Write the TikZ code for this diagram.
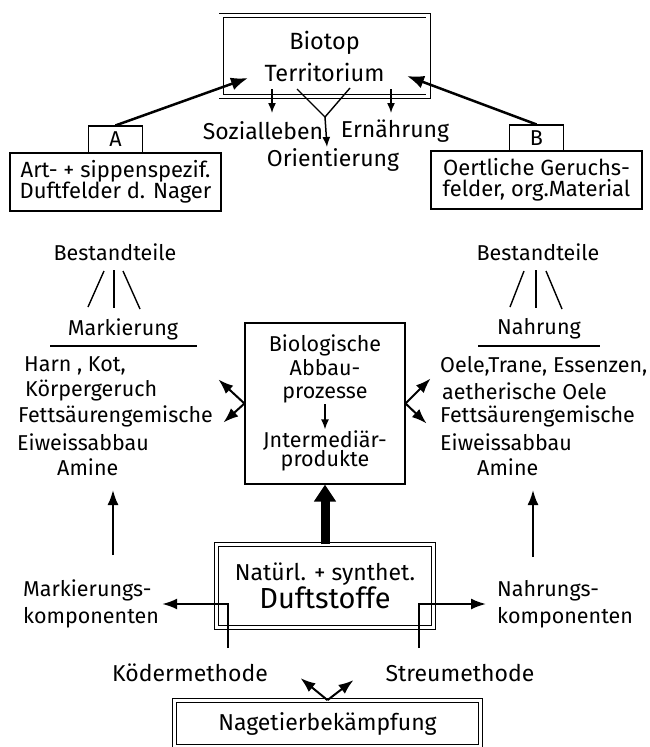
\documentclass[tikz,border=0pt]{standalone}
\usepackage{fontspec}
\setmainfont{Fira Sans}
\usetikzlibrary{arrows.meta,positioning}
\newcommand{\lett}{\fontsize{21.5}{26}\selectfont}
\newcommand{\lettgross}{\fontsize{29}{32}\selectfont}
\tikzset{
  kasten/.style={draw,line width=1.1pt,inner sep=2pt},
  doppelkasten/.style={draw,double,double distance=3.4pt,line width=0.8pt,inner sep=2pt},
  strich/.style={line width=1.4pt},
  pfeil/.style={line width=2pt,-{Latex[length=15pt,width=11pt]}},
  pfeildick/.style={line width=2.5pt,-{Latex[length=17pt,width=13pt]}},
  pfeilklein/.style={line width=1.5pt,-{Latex[length=10pt,width=8pt]}},
  pfeilbreit/.style={line width=9pt,-{Triangle[length=17pt,width=21pt]}}
}
\begin{document}
\begin{tikzpicture}[x=1pt,y=-1pt,font=\lett,inner sep=1pt]
\useasboundingbox (0,0) rectangle (649,747);

% Biotop oben
\node[doppelkasten,minimum width=207pt,minimum height=81pt,align=center,
  font=\fontsize{23.5}{32}\selectfont] (biotop) at (324.5,56) {Biotop\\Territorium};
\node[kasten,minimum width=211pt,minimum height=58pt,align=center,
  font=\fontsize{22}{21.5}\selectfont] (artfeld) at (115.5,182)
  {Art- + sippenspezif.\\Duftfelder d. Nager};
\node[kasten,minimum width=54pt,minimum height=27pt,above=-1.1pt of artfeld] (akasten) {A};
\node[kasten,minimum width=211pt,minimum height=58pt,align=center,
  font=\fontsize{22}{21.5}\selectfont] (geruch) at (536.5,180)
  {Oertliche Geruchs-\\felder, org.Material};
\node[kasten,minimum width=54pt,minimum height=26pt,above=-1.1pt of geruch] (bkasten) {B};

\node[font=\fontsize{23}{27}\selectfont] (sozial) at (263,131) {Sozialleben};
\node[font=\fontsize{23}{27}\selectfont] (ernaehr) at (395,131) {Ernährung};
\node[font=\fontsize{23}{27}\selectfont] (orient) at (333,160) {Orientierung};

\coordinate (ta) at (248,78);
\coordinate (tb) at (407,76);
\draw[pfeildick] (akasten.north) -- (ta);
\draw[pfeildick] (bkasten.north) -- (tb);

\coordinate (soz0) at (272,89);
\coordinate (soz1) at (272,113);
\coordinate (ern0) at (391,89);
\coordinate (ern1) at (391,113);
\draw[pfeilklein] (soz0) -- (soz1);
\draw[pfeilklein] (ern0) -- (ern1);
\coordinate (y1) at (297,89);
\coordinate (y2) at (350,88);
\coordinate (ym) at (325,117);
\coordinate (yo) at (327,147);
\draw[strich] (y1) -- (ym) -- (y2);
\draw[pfeilklein] (ym) -- (yo);

% Bestandteile links
\node (bestl) at (115,252) {Bestandteile};
\draw[strich] (88,307) -- (104,271);
\draw[strich] (114,270) -- (114,308);
\draw[strich] (123,271) -- (140,309);
\node (markierung) at (123,329) {Markierung};
\draw[strich] (50,346) -- (197,346);
\node[anchor=west] (harn) at (23,366) {Harn , Kot,};
\node[anchor=west] (koerper) at (24,391) {Körpergeruch};
\node[anchor=west] (fettl) at (17,416) {Fettsäurengemische};
\node[anchor=west] (eiweissl) at (16,442) {Eiweissabbau};
\node[anchor=west] (aminel) at (56,467) {Amine};

% Bestandteile rechts
\node (bestr) at (538,252) {Bestandteile};
\draw[strich] (510,307) -- (524,271);
\draw[strich] (536,270) -- (536,308);
\draw[strich] (546,271) -- (562,309);
\node (nahrung) at (539,329) {Nahrung};
\draw[strich] (478,346) -- (600,346);
\node[anchor=west] (oele) at (439,366) {Oele,Trane, Essenzen,};
\node[anchor=west] (aether) at (441,391) {aetherische Oele};
\node[anchor=west] (fettr) at (439,416) {Fettsäurengemische};
\node[anchor=west] (eiweissr) at (439,442) {Eiweissabbau};
\node[anchor=west] (aminer) at (476,467) {Amine};

% Abbau in der Mitte
\node[kasten,minimum width=160pt,minimum height=161pt] (abbau) at (325,403.5) {};
\node[align=center,font=\fontsize{21.5}{23.5}\selectfont] (abbauoben) at (325,369)
  {Biologische\\Abbau-\\prozesse};
\node[align=center,font=\fontsize{21.5}{19.5}\selectfont] (produkt) at (325,451)
  {Jntermediär-\\produkte};
\draw[pfeilklein] (abbauoben) -- (produkt);
\draw[pfeil] (abbau.west) -- ++(-26,-24);
\draw[pfeil] (abbau.west) -- ++(-21,19);
\draw[pfeil] (abbau.east) -- ++(25,-25);
\draw[pfeil] (abbau.east) -- ++(21,20);

% Duftstoffe
\node[doppelkasten,minimum width=217.5pt,minimum height=82.5pt,align=center,
  font=\fontsize{23}{27}\selectfont]
  (duft) at (325,586) {Natürl. + synthet.\\[1pt]{\lettgross Duftstoffe}};
\draw[pfeilbreit] (duft.north) -- (abbau.south);

\node[anchor=west,align=left,font=\fontsize{21.5}{27}\selectfont] (markkomp) at (22,604)
  {Markierungs-\\komponenten};
\node[anchor=west,align=left,font=\fontsize{21.5}{27}\selectfont] (nahrkomp) at (496,604)
  {Nahrungs-\\komponenten};
\coordinate (ml0) at (113,555);
\coordinate (ml1) at (113,490);
\coordinate (mr0) at (533,557);
\coordinate (mr1) at (533,490);
\draw[pfeil] (ml0) -- (ml1);
\draw[pfeil] (mr0) -- (mr1);

\node[font=\fontsize{23}{27}\selectfont] (koeder) at (190,673) {Ködermethode};
\node[font=\fontsize{23}{27}\selectfont] (streu) at (460,673) {Streumethode};
\coordinate (kv) at (228,648);
\coordinate (sv) at (419,648);
\draw[pfeil,shorten >=2pt] (kv) |- (markkomp.east);
\draw[pfeil,shorten >=10pt] (sv) |- (nahrkomp.west);

% Nagetierbekaempfung
\node[doppelkasten,minimum width=306pt,minimum height=46pt,
  font=\fontsize{23}{27}\selectfont] (nager) at (327.5,723.5) {Nagetierbekämpfung};
\draw[pfeil] (nager.north) -- ++(-27,-22);
\draw[pfeil] (nager.north) -- ++(26,-20);
\end{tikzpicture}
\end{document}
